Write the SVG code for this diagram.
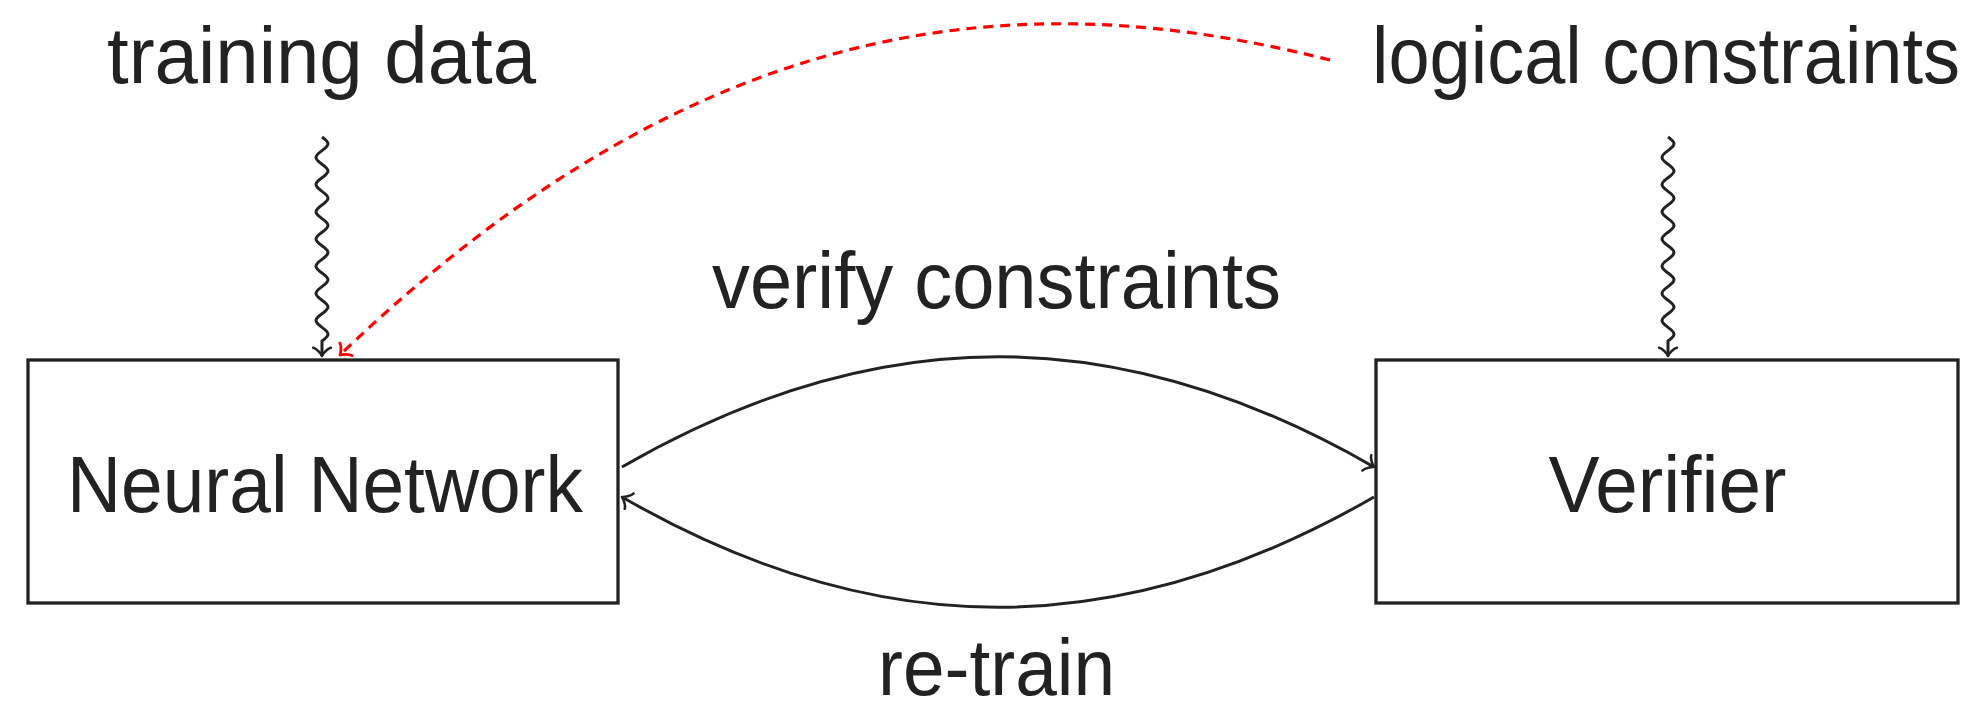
<svg xmlns="http://www.w3.org/2000/svg" width="1978" height="718" viewBox="0 0 1978 718">
  <style>
    .lbl { font-family: "Liberation Sans", Arial, sans-serif; font-size: 80px; fill: #222222; text-anchor: middle; }
    .box { fill: #ffffff; stroke: #222222; stroke-width: 3.3; }
    .edge { fill: none; stroke: #222222; stroke-width: 3; }
    .snake { fill: none; stroke: #222222; stroke-width: 3; }
    .hint { fill: none; stroke: #ff0000; stroke-width: 3.2; stroke-dasharray: 10 7; }
  </style>
  <defs>
    <!-- curved "to" style arrow tips, tip at the origin -->
    <marker id="tip" markerUnits="userSpaceOnUse" viewBox="-15 -15 30 30" markerWidth="30" markerHeight="30" refX="0" refY="0" orient="auto" overflow="visible">
      <path d="M -8.25 8.8 C -7.7 5.5 -1.65 0.55 0 0 C -1.65 -0.55 -7.7 -5.5 -8.25 -8.8" fill="none" stroke="#222222" stroke-width="2.6" stroke-linecap="round" stroke-linejoin="round"/>
    </marker>
    <marker id="tip-red" markerUnits="userSpaceOnUse" viewBox="-15 -15 30 30" markerWidth="30" markerHeight="30" refX="0" refY="0" orient="auto" overflow="visible">
      <path d="M -8.25 8.8 C -7.7 5.5 -1.65 0.55 0 0 C -1.65 -0.55 -7.7 -5.5 -8.25 -8.8" fill="none" stroke="#ff0000" stroke-width="2.8" stroke-linecap="round" stroke-linejoin="round"/>
    </marker>
  </defs>

  <rect width="1978" height="718" fill="#ffffff"/>

  <!-- inputs -->
  <g id="training-data">
    <text class="lbl" x="321.5" y="83" textLength="429" lengthAdjust="spacingAndGlyphs">training data</text>
  </g>
  <g id="logical-constraints">
    <!-- horizontally condensed label, kept inside the right margin -->
    <text class="lbl" transform="translate(1666 83) scale(0.925 1)" x="0" y="0">logical constraints</text>
  </g>

  <!-- main blocks -->
  <g id="neural-network">
    <rect class="box" x="28" y="360" width="590" height="243"/>
    <text class="lbl" x="325" y="512" textLength="516" lengthAdjust="spacingAndGlyphs">Neural Network</text>
  </g>
  <g id="verifier">
    <rect class="box" x="1376" y="360" width="582" height="243"/>
    <text class="lbl" x="1667.5" y="512" textLength="238" lengthAdjust="spacingAndGlyphs">Verifier</text>
  </g>

  <!-- connectors -->
  <g id="connectors">
    <!-- snake arrows from the inputs -->
    <path class="snake" marker-end="url(#tip)" d="M 322 137 c 8 5.77 8 7.83 0 13.6 s -8 7.83 0 13.6 s 8 7.83 0 13.6 s -8 7.83 0 13.6 s 8 7.83 0 13.6 s -8 7.83 0 13.6 s 8 7.83 0 13.6 s -8 7.83 0 13.6 s 8 7.83 0 13.6 s -8 7.83 0 13.6 s 8 7.83 0 13.6 s -8 7.83 0 13.6 s 8 7.83 0 13.6 s -8 7.83 0 13.6 s 8 7.83 0 13.6 L 322 356"/>
    <path class="snake" marker-end="url(#tip)" d="M 1668 137 c 8 5.77 8 7.83 0 13.6 s -8 7.83 0 13.6 s 8 7.83 0 13.6 s -8 7.83 0 13.6 s 8 7.83 0 13.6 s -8 7.83 0 13.6 s 8 7.83 0 13.6 s -8 7.83 0 13.6 s 8 7.83 0 13.6 s -8 7.83 0 13.6 s 8 7.83 0 13.6 s -8 7.83 0 13.6 s 8 7.83 0 13.6 s -8 7.83 0 13.6 s 8 7.83 0 13.6 L 1668 356"/>

    <!-- feedback loop between the blocks -->
    <path class="edge" marker-end="url(#tip)" d="M 622 467 C 877 320 1119 320 1374 467"/>
    <path class="edge" marker-end="url(#tip)" d="M 1374 497 C 1119 644 877 644 622 497"/>

    <!-- constraints fed into training -->
    <path class="hint" marker-end="url(#tip-red)" d="M 1330 60 C 1045 -12 715 -6 340 355"/>

    <text class="lbl" x="996.5" y="308" textLength="569" lengthAdjust="spacingAndGlyphs">verify constraints</text>
    <text class="lbl" x="996.5" y="695" textLength="237" lengthAdjust="spacingAndGlyphs">re-train</text>
  </g>
</svg>
